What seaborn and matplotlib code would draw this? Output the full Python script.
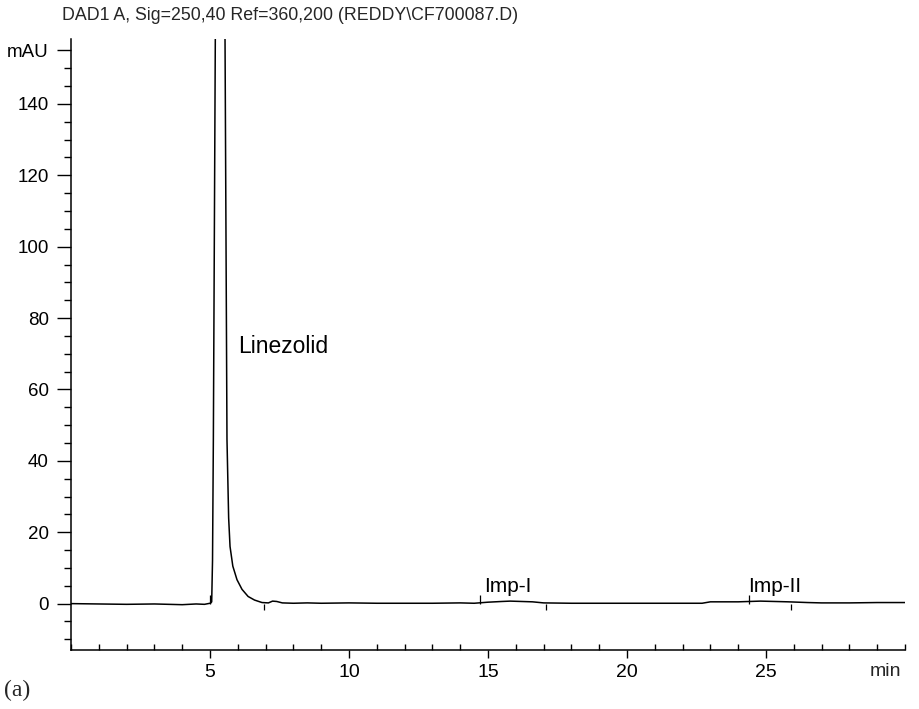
import numpy as np
import matplotlib
matplotlib.use('Agg')
import matplotlib.pyplot as plt
import matplotlib.transforms as mtransforms
from matplotlib.ticker import MultipleLocator
import seaborn as sns

# Chromatogram trace (time in min, signal in mAU)
time_min = [0, 1, 2, 3, 3.5, 4.0, 4.5, 4.8, 5.0, 5.03, 5.06, 5.09, 5.12, 5.19,
            5.26, 5.36, 5.46, 5.54, 5.61, 5.67, 5.72, 5.82, 5.97, 6.15, 6.37,
            6.6, 6.87, 7.1, 7.25, 7.4, 7.6, 8.0, 8.5, 9, 10, 11, 12, 13, 14,
            14.5, 15.0, 15.5, 15.8, 16.2, 16.6, 17.0, 18, 19, 20, 21, 22, 22.7,
            23.0, 24.0, 24.8, 25.3, 25.8, 26.5, 27, 28, 29, 30]
signal_mau = [0, -0.1, -0.2, -0.1, -0.2, -0.3, -0.1, -0.2, 0.1, 0.2, 0.5, 12,
              46, 158, 420, 900, 420, 158, 46, 24, 16, 10.5, 6.7, 4, 2, 1,
              0.3, 0.2, 0.7, 0.6, 0.2, 0.1, 0.2, 0.1, 0.2, 0.1, 0.1, 0.1, 0.2,
              0.1, 0.4, 0.6, 0.7, 0.6, 0.5, 0.2, 0.1, 0.1, 0.1, 0.1, 0.1, 0.1,
              0.5, 0.5, 0.7, 0.6, 0.5, 0.3, 0.2, 0.2, 0.3, 0.3]

# peak start / end markers of the integrator
peak_start = [5.0, 14.7, 24.4]
peak_end = [6.95, 17.1, 25.9]

peak_names = ['Linezolid', 'Imp-I', 'Imp-II']
label_x = [6.0, 14.85, 24.35]
label_y = [72, 4.8, 4.8]

x_ticks = [5, 10, 15, 20, 25]
y_ticks = [0, 20, 40, 60, 80, 100, 120, 140, 155]
y_labels = ['0', '20', '40', '60', '80', '100', '120', '140', 'mAU']

title = r'DAD1 A, Sig=250,40 Ref=360,200 (REDDY\CF700087.D)'

sns.set_style('ticks')
plt.rcParams['font.family'] = ['Liberation Sans', 'DejaVu Sans']

fig = plt.figure(figsize=(9.2, 7.09), dpi=100)
ax = fig.add_axes([0.0772, 0.0832, 0.9065, 0.8618])

sns.lineplot(x=time_min, y=signal_mau, ax=ax, color='black', linewidth=1.1,
             sort=False, estimator=None)

# integration markers
ax.vlines(peak_start, 0, 2.5, color='black', linewidth=0.9)
ax.vlines(peak_end, -1.8, 0, color='black', linewidth=0.9)

for name, lx, ly in zip(peak_names, label_x, label_y):
    ax.text(lx, ly, name, fontsize=16.5 if name == 'Linezolid' else 15,
            ha='left', va='center', color='black')

ax.set_xlim(0, 30)
ax.set_ylim(-13, 158.2)

ax.set_xticks(x_ticks)
ax.set_xticklabels([str(t) for t in x_ticks], fontsize=14)
ax.xaxis.set_minor_locator(MultipleLocator(1))
ax.set_yticks(y_ticks)
ax.set_yticklabels(y_labels, fontsize=13.5)
ax.yaxis.set_minor_locator(MultipleLocator(5))

ax.tick_params(axis='y', which='major', direction='out', length=10, width=1, pad=6, colors='black')
ax.tick_params(axis='y', which='minor', direction='out', length=5, width=1, colors='black')
ax.tick_params(axis='x', which='major', direction='out', length=6, width=1, pad=4, colors='black')
ax.tick_params(axis='x', which='minor', direction='in', length=4, width=1, colors='black')

for side in ['top', 'right']:
    ax.spines[side].set_visible(False)
for side in ['left', 'bottom']:
    ax.spines[side].set_linewidth(1.1)
    ax.spines[side].set_color('black')

ax.set_xlabel('')
ax.set_ylabel('')

trans = mtransforms.blended_transform_factory(ax.transData, ax.transAxes)
ax.text(29.3, -0.022, 'min', transform=trans, fontsize=14, ha='center', va='top')

fig.text(62 / 920, 1 - 15 / 709, title, fontsize=12.8, ha='left', va='center')
fig.text(4 / 920, 1 - 690 / 709, '(a)', fontsize=17,
         family=['Liberation Serif', 'DejaVu Serif'], ha='left', va='center')

fig.savefig('out.png', dpi=100)
